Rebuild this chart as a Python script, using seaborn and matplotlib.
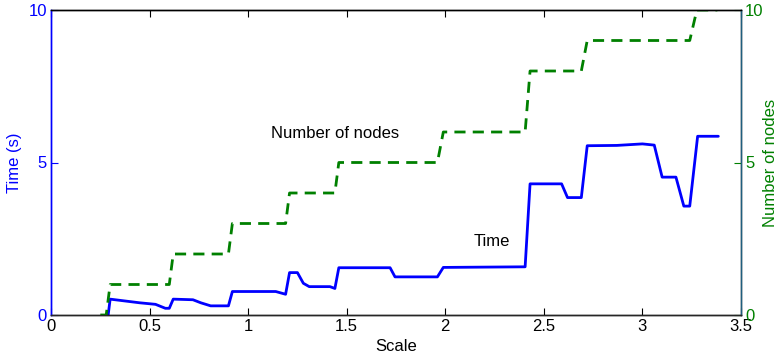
import matplotlib
matplotlib.use("Agg")
import matplotlib.pyplot as plt
import seaborn as sns
import pandas as pd

scale_time = [0.29, 0.30, 0.45, 0.53, 0.58, 0.60, 0.62, 0.72, 0.76, 0.81, 0.90, 0.92, 1.14, 1.19, 1.21,
              1.25, 1.28, 1.31, 1.415, 1.44, 1.46, 1.72, 1.745, 1.96, 1.99, 2.405, 2.43, 2.59, 2.62,
              2.69, 2.72, 2.87, 3.0, 3.06, 3.10, 3.17, 3.21, 3.24, 3.28, 3.385]
time_s = [0.0, 0.52, 0.40, 0.35, 0.22, 0.22, 0.52, 0.50, 0.40, 0.30, 0.30, 0.77, 0.77, 0.68, 1.39,
          1.39, 1.04, 0.93, 0.93, 0.87, 1.55, 1.55, 1.25, 1.25, 1.56, 1.58, 4.30, 4.30, 3.85,
          3.85, 5.55, 5.56, 5.61, 5.57, 4.52, 4.52, 3.57, 3.57, 5.86, 5.86]

scale_nodes = [0.25, 0.28, 0.30, 0.60, 0.62, 0.90, 0.92, 1.19, 1.21, 1.44, 1.46, 1.96, 1.99,
               2.405, 2.43, 2.69, 2.72, 3.24, 3.276, 3.38]
nodes = [0, 0, 1, 1, 2, 2, 3, 3, 4, 4, 5, 5, 6, 6, 8, 8, 9, 9, 10, 10]

x_ticks = [0, 0.5, 1, 1.5, 2, 2.5, 3, 3.5]
x_tick_labels = ["0", "0.5", "1", "1.5", "2", "2.5", "3", "3.5"]
y_ticks = [0, 5, 10]

sns.set_theme(style="white")
plt.rcParams['font.family'] = ['Liberation Sans', 'DejaVu Sans']

BLUE = "#0000ff"
GREEN = "#008000"

fig = plt.figure(figsize=(7.8, 3.57), dpi=100)
ax = fig.add_axes([51/780, 42/357, 690/780, 305/357])
ax2 = ax.twinx()

df_t = pd.DataFrame({"scale": scale_time, "time": time_s})
df_n = pd.DataFrame({"scale": scale_nodes, "nodes": nodes})

sns.lineplot(data=df_t, x="scale", y="time", ax=ax, color=BLUE, linewidth=2,
             sort=False, estimator=None)
sns.lineplot(data=df_n, x="scale", y="nodes", ax=ax2, color=GREEN, linewidth=2,
             sort=False, estimator=None, dashes=False)
for l in ax2.get_lines():
    l.set_dashes([4, 2.6])

ax.set_xlim(0, 3.5)
ax.set_ylim(0, 10)
ax2.set_ylim(0, 10)
ax.set_xticks(x_ticks)
ax.set_xticklabels(x_tick_labels)
ax.set_yticks(y_ticks)
ax2.set_yticks(y_ticks)

ax.tick_params(axis="x", direction="in", length=5, top=True, bottom=True, labelsize=12,
               colors="black", pad=3, width=0.8)
ax.tick_params(axis="y", direction="in", length=5, left=True, labelsize=12,
               colors=BLUE, pad=3, width=0.8)
ax2.tick_params(axis="y", direction="in", length=5, right=True, labelsize=12,
                colors=GREEN, pad=3, width=0.8)

for a in (ax, ax2):
    for s in a.spines.values():
        s.set_visible(True)
        s.set_linewidth(1.0)
ax.spines["left"].set_color(BLUE)
ax2.spines["left"].set_color(BLUE)
ax.spines["bottom"].set_color("black")
ax.spines["top"].set_color("black")
ax2.spines["top"].set_color("black")
ax2.spines["right"].set_color("#1f5f7f")

ax.set_xlabel("Scale", fontsize=12, color="black")
ax.set_ylabel("Time (s)", fontsize=12, color=BLUE)
ax2.set_ylabel("Number of nodes", fontsize=12, color=GREEN)
ax.xaxis.set_label_coords(0.5, -0.079)
ax.yaxis.set_label_coords(-0.042, 0.5)
ax2.yaxis.set_label_coords(1.032, 0.5)
ax.grid(False)
ax2.grid(False)

ax.text(1.44, 5.95, "Number of nodes", fontsize=12, color="black", ha="center", va="center")
ax.text(2.235, 2.41, "Time", fontsize=12, color="black", ha="center", va="center")

fig.savefig("out.png", dpi=100)
